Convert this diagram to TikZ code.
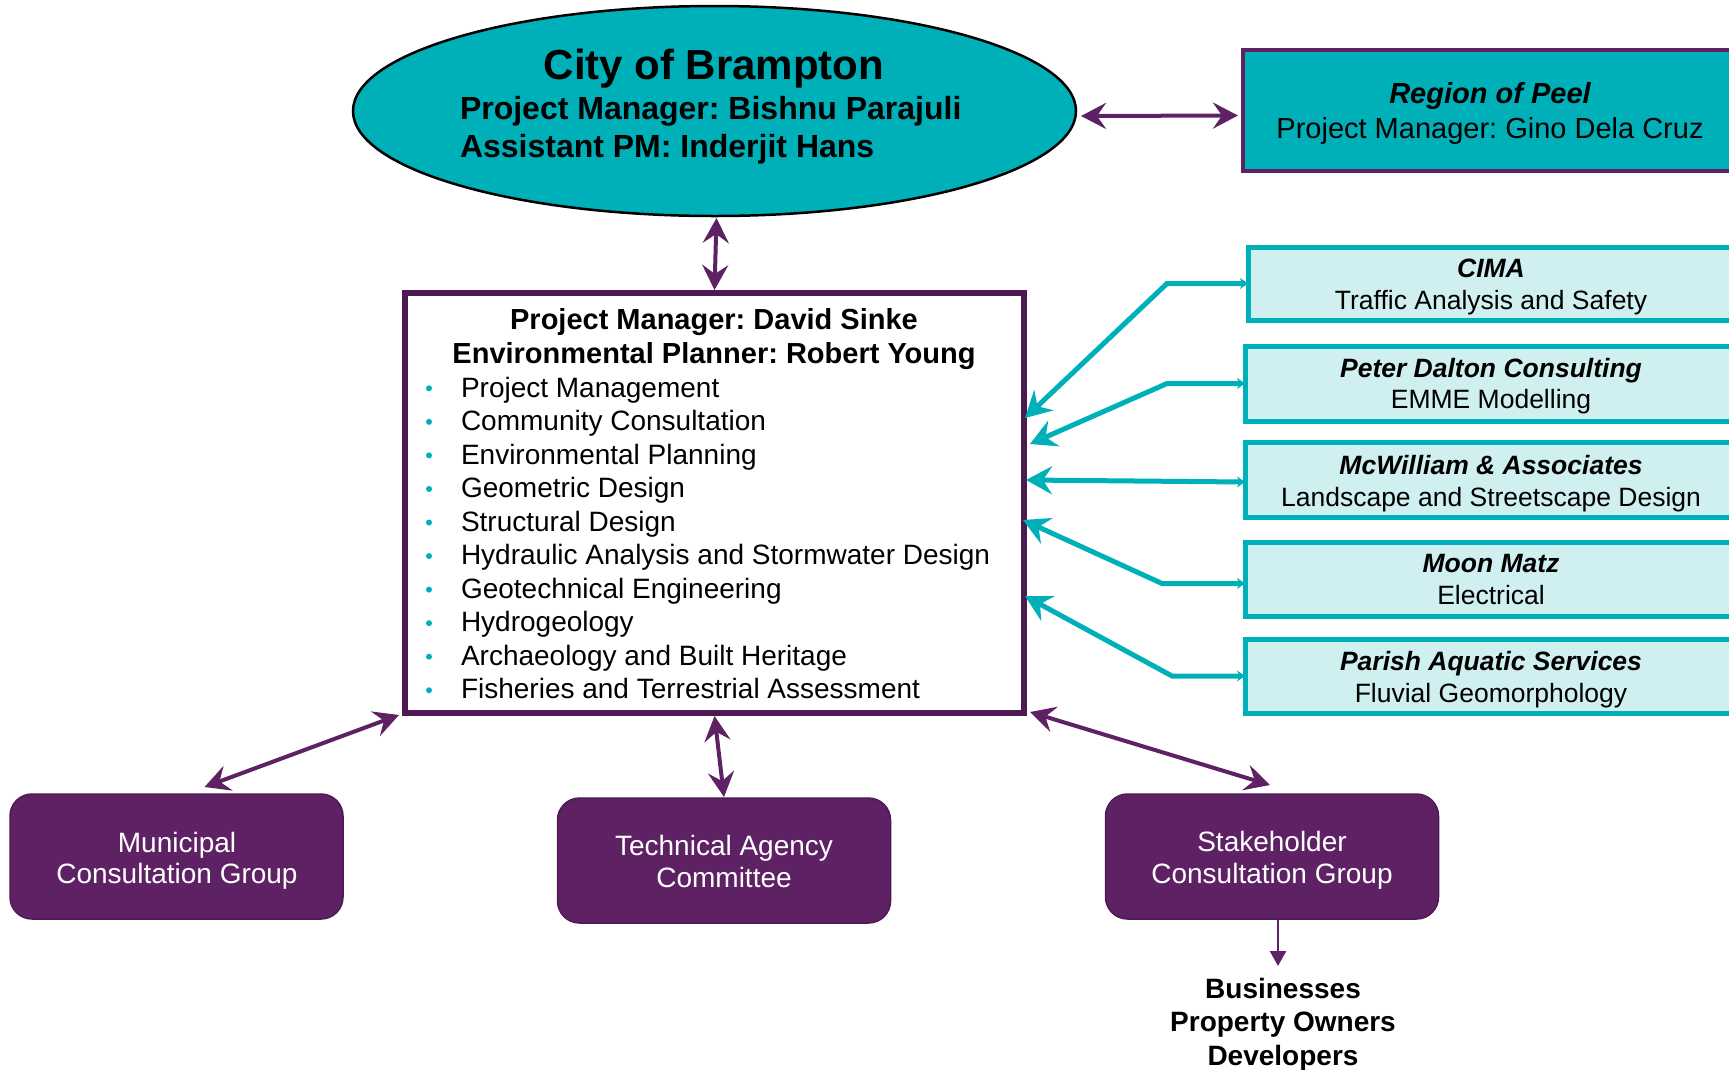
\documentclass[tikz,border=0pt]{standalone}
\usepackage{fontspec}
\setmainfont{Liberation Sans}
\frenchspacing
\usetikzlibrary{arrows.meta,shapes.geometric,calc}
\definecolor{tealA}{RGB}{0,176,185}
\definecolor{tealL}{RGB}{208,239,240}
\definecolor{purp}{RGB}{94,34,100}
\definecolor{purpD}{RGB}{76,25,82}
\definecolor{purpE}{RGB}{78,26,84}
\newcommand{\fsz}[1]{\fontsize{#1}{#1}\selectfont}
\begin{document}
\begin{tikzpicture}[x=1pt,y=-1pt,
  every node/.style={outer sep=0pt},
  lbl/.style={inner sep=0pt,anchor=base,text=black},
  lblw/.style={inner sep=0pt,anchor=base west,text=black},
  wlbl/.style={inner sep=0pt,anchor=base,text=white,font=\fsz{28}},
  conbox/.style={draw=tealA,fill=tealL,line width=5pt,rectangle,inner sep=0pt},
  grpbox/.style={draw=purpE,fill=purp,line width=1.5pt,rounded corners=22pt,rectangle,inner sep=0pt,minimum width=333pt,minimum height=125pt},
  dotmark/.style={circle,fill=tealA,inner sep=0pt,minimum size=6pt},
  purparrow/.style={draw=purp,line width=4pt,arrows={Stealth[length=25pt,width=26pt,inset=9pt]-Stealth[length=25pt,width=26pt,inset=9pt]}},
  tealarrow/.style={draw=tealA,line width=5pt,arrows={Stealth[length=8pt,width=11pt]-Stealth[length=26pt,width=28pt,inset=9pt]}},
  conTitle/.style={lbl,font=\fsz{26.5}\bfseries\itshape},
  conSub/.style={lbl,font=\fsz{26.5}}]

\useasboundingbox (0,0) rectangle (1729,1069);
\clip (0,0) rectangle (1729,1069);
\fill[white] (0,0) rectangle (1729,1069);

% City of Brampton ellipse
\node[ellipse,draw=black,line width=2.5pt,fill=tealA,minimum width=723pt,minimum height=210pt,inner sep=0pt] (city) at (714.5,111) {};
\node[lbl,font=\fsz{42}\bfseries] (cityT) at (714,79) {City of Brampton};
\node[lblw,font=\fsz{32}\bfseries] (cityPM) at (460,119) {Project Manager: Bishnu Parajuli};
\node[lblw,font=\fsz{32}\bfseries] (cityAPM) at (460,157) {Assistant PM: Inderjit Hans};

% Region of Peel
\node[rectangle,draw=purp,fill=tealA,line width=4pt,minimum width=494pt,minimum height=121pt,inner sep=0pt] (peel) at (1490,110.5) {};
\node[lbl,font=\fsz{29}\bfseries\itshape] (peelT) at (1490,103) {Region of Peel};
\node[lbl,font=\fsz{29}] (peelS) at (1490,138) {Project Manager: Gino Dela Cruz};

% Main box
\node[rectangle,draw=purpD,fill=white,line width=6.5pt,minimum width=619pt,minimum height=420pt,inner sep=0pt] (main) at (714.5,503) {};
\node[lbl,font=\fsz{29}\bfseries] (mainH1) at (714,329) {Project Manager: David Sinke};
\node[lbl,font=\fsz{29}\bfseries] (mainH2) at (714,363) {Environmental Planner: Robert Young};
\foreach \t [count=\i] in {Project Management,Community Consultation,Environmental Planning,Geometric Design,Structural Design,Hydraulic Analysis and Stormwater Design,Geotechnical Engineering,Hydrogeology,Archaeology and Built Heritage,Fisheries and Terrestrial Assessment}{
  \pgfmathsetmacro\yb{397+(\i-1)*33.55}
  \node[dotmark] (bul\i) at (429,{\yb-8.7}) {};
  \node[lblw,font=\fsz{28}] (item\i) at (461,\yb) {\t};
}

% Consultant boxes
\node[conbox,minimum width=492pt,minimum height=73pt] (cima) at (1494,283.5) {};
\node[conTitle] (cimaT) at (1491,277) {CIMA};
\node[conSub] (cimaS) at (1491,309) {Traffic Analysis and Safety};

\node[conbox,minimum width=495pt,minimum height=75pt] (peter) at (1492.5,383.5) {};
\node[conTitle] (peterT) at (1491,377) {Peter Dalton Consulting};
\node[conSub] (peterS) at (1491,408) {EMME Modelling};

\node[conbox,minimum width=495pt,minimum height=74.5pt] (mcw) at (1492.5,480) {};
\node[conTitle] (mcwT) at (1491,474) {McWilliam \& Associates};
\node[conSub] (mcwS) at (1491,506) {Landscape and Streetscape Design};

\node[conbox,minimum width=495pt,minimum height=74pt] (moon) at (1492.5,579.5) {};
\node[conTitle] (moonT) at (1491,572) {Moon Matz};
\node[conSub] (moonS) at (1491,604) {Electrical};

\node[conbox,minimum width=495pt,minimum height=74pt] (parish) at (1492.5,676) {};
\node[conTitle] (parishT) at (1491,670) {Parish Aquatic Services};
\node[conSub] (parishS) at (1491,702) {Fluvial Geomorphology};

% Bottom groups
\node[grpbox] (muni) at (176.5,856.5) {};
\node[wlbl] (muniT1) at (177,852) {Municipal};
\node[wlbl] (muniT2) at (177,883) {Consultation Group};

\node[grpbox] (tech) at (724,860.5) {};
\node[wlbl] (techT1) at (724,855) {Technical Agency};
\node[wlbl] (techT2) at (724,887) {Committee};

\node[grpbox] (stake) at (1272,856.5) {};
\node[wlbl] (stakeT1) at (1272,851) {Stakeholder};
\node[wlbl] (stakeT2) at (1272,883) {Consultation Group};

\node[lbl,font=\fsz{28}\bfseries] (biz1) at (1283,998) {Businesses};
\node[lbl,font=\fsz{28}\bfseries] (biz2) at (1283,1031) {Property Owners};
\node[lbl,font=\fsz{28}\bfseries] (biz3) at (1283,1065) {Developers};
\coordinate (bizin) at (1278,966);

% Purple connectors
\draw[purparrow] ($(city.east)+(5,5)$) -- ($(peel.west)+(-5,5)$);
\draw[purparrow] ($(city.south)+(2,2)$) -- ($(main.north)+(0,-3)$);
\draw[purparrow] ($(main.south west)+(-6,2)$) -- ($(muni.north)+(28,-7)$);
\draw[purparrow] ($(main.south)+(0,3)$) -- ($(tech.north)+(0,-1)$);
\draw[purparrow] ($(main.south east)+(6,-1)$) -- ($(stake.north)+(-2,-9)$);
\draw[draw=purp,line width=2.5pt,-{Triangle[length=15pt,width=16pt]}] (stake.south -| bizin) -- (bizin);

% Teal connectors
\draw[tealarrow] (cima.west) -- ++(-81,0) -- ($(main.north east)+(1,125)$);
\draw[tealarrow] (peter.west) -- ++(-78,0) -- ($(main.north east)+(6,151)$);
\draw[tealarrow] ([yshift=-2pt]mcw.west) -- ($(main.north east)+(2,187)$);
\draw[tealarrow] ([yshift=-4pt]moon.west) -- ++(-83,0) -- ($(main.north east)+(-1,227)$);
\draw[tealarrow] (parish.west) -- ++(-73,0) -- ($(main.north east)+(1,303)$);
\end{tikzpicture}
\end{document}
